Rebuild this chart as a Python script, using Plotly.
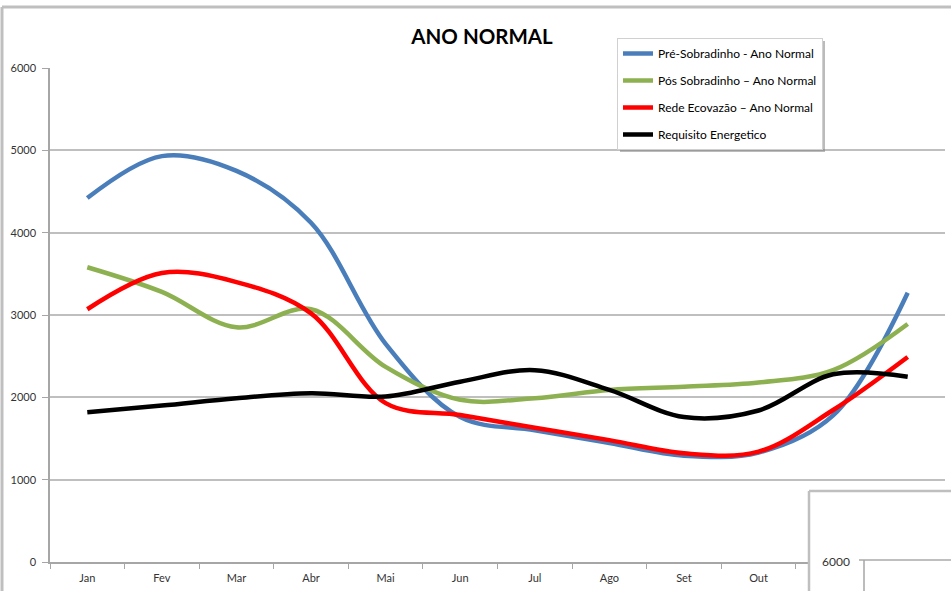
import plotly.graph_objects as go

months = ["Jan", "Fev", "Mar", "Abr", "Mai", "Jun", "Jul", "Ago", "Set", "Out", "Nov", "Dez"]
pre_sobradinho = [4420, 4930, 4750, 4120, 2650, 1760, 1600, 1445, 1290, 1330, 1780, 3270]
pos_sobradinho = [3580, 3280, 2850, 3070, 2370, 1970, 1990, 2090, 2130, 2180, 2330, 2890]
rede_ecovazao = [3070, 3510, 3400, 3020, 1930, 1785, 1630, 1480, 1320, 1340, 1846, 2490]
requisito = [1820, 1900, 1990, 2050, 2010, 2190, 2330, 2090, 1760, 1840, 2280, 2250]
# Nov label is hidden behind the overlapping box in the reference
month_labels = ["Jan", "Fev", "Mar", "Abr", "Mai", "Jun", "Jul", "Ago", "Set", "Out", "", "Dez"]

series_names = ["Pré-Sobradinho - Ano Normal", "Pós Sobradinho – Ano Normal",
                "Rede Ecovazão – Ano Normal", "Requisito Energetico"]
series_values = [pre_sobradinho, pos_sobradinho, rede_ecovazao, requisito]
series_colors = ["#4A7EBB", "#8DB150", "#FF0000", "#000000"]

W, H = 951, 591
L, R, T, B = 50, 6, 68, 29
PW, PH = W - L - R, H - T - B


def px(x):
    return (x - L) / PW


def py(y):
    return (H - B - y) / PH


fig = go.Figure()
for i, (name, vals, col) in enumerate(zip(series_names, series_values, series_colors)):
    fig.add_trace(go.Scatter(
        x=months, y=vals, name=name, mode="lines",
        line=dict(color=col, width=4.5, shape="spline", smoothing=1.0),
        legendgroup=f"g{i}",
    ))

FONT = "Lato, 'Open Sans', sans-serif"
shapes = []
# outer frame (top and left)
shapes.append(dict(type="line", xref="paper", yref="paper", x0=px(2), x1=px(952), y0=py(7), y1=py(7),
                   line=dict(color="#BFBFBF", width=3), layer="above"))
shapes.append(dict(type="line", xref="paper", yref="paper", x0=px(2), x1=px(2), y0=py(7), y1=py(592),
                   line=dict(color="#BFBFBF", width=3), layer="above"))
# legend shadow
shapes.append(dict(type="rect", xref="paper", yref="paper", x0=px(620), x1=px(825), y0=py(41), y1=py(152),
                   fillcolor="rgba(120,120,120,0.5)", line=dict(width=0), layer="above"))
# overlapping box in bottom right
shapes.append(dict(type="rect", xref="paper", yref="paper", x0=px(809), x1=px(960), y0=py(491), y1=py(600),
                   fillcolor="white", line=dict(width=0), layer="above"))
shapes.append(dict(type="line", xref="paper", yref="paper", x0=px(809), x1=px(809), y0=py(491), y1=py(600),
                   line=dict(color="#BFBFBF", width=2.5), layer="above"))
shapes.append(dict(type="line", xref="paper", yref="paper", x0=px(809), x1=px(960), y0=py(491), y1=py(491),
                   line=dict(color="#BFBFBF", width=2.5), layer="above"))
shapes.append(dict(type="line", xref="paper", yref="paper", x0=px(859), x1=px(960), y0=py(560), y1=py(560),
                   line=dict(color="#BFBFBF", width=2), layer="above"))
shapes.append(dict(type="line", xref="paper", yref="paper", x0=px(864), x1=px(864), y0=py(560), y1=py(600),
                   line=dict(color="#A6A6A6", width=1.5), layer="above"))

fig.update_layout(
    width=W, height=H,
    margin=dict(l=L, r=R, t=T, b=B, autoexpand=False),
    paper_bgcolor="white", plot_bgcolor="white",
    font=dict(family=FONT, size=11, color="#333333"),
    title=dict(text="<b>ANO NORMAL</b>", x=482 / W, xanchor="center", y=1 - 37 / H, yanchor="middle",
               font=dict(family=FONT, size=20.5, color="#000000")),
    xaxis=dict(type="category", range=[-0.5, 11.5], showgrid=False, showline=True, linecolor="#A6A6A6",
               linewidth=1.5, ticks="outside", ticklen=5, tickcolor="#A6A6A6", tickson="boundaries",
               tickmode="array", tickvals=months, ticktext=month_labels, ticklabelstandoff=5,
               tickfont=dict(size=11, color="#333333"), fixedrange=True),
    yaxis=dict(range=[0, 6000], dtick=1000, showgrid=True, gridcolor="#BFBFBF", gridwidth=2,
               showline=True, linecolor="#A6A6A6", linewidth=1.5, ticks="outside", ticklen=6,
               tickcolor="#A6A6A6", zeroline=False, ticklabelstandoff=4,
               tickfont=dict(size=11, color="#333333")),
    legend=dict(x=px(617), y=py(38), xanchor="left", yanchor="top", bgcolor="white",
                bordercolor="#D0D0D0", borderwidth=1, tracegroupgap=8,
                font=dict(family=FONT, size=12, color="#000000"), itemwidth=30),
    shapes=shapes,
    annotations=[dict(text="6000", xref="paper", yref="paper", x=px(836), y=py(561), showarrow=False,
                      xanchor="center", yanchor="middle", font=dict(size=12, color="#333333"))],
)

fig.write_html("out.html", config={"displayModeBar": False},
               post_script="document.body.style.margin='0';")
